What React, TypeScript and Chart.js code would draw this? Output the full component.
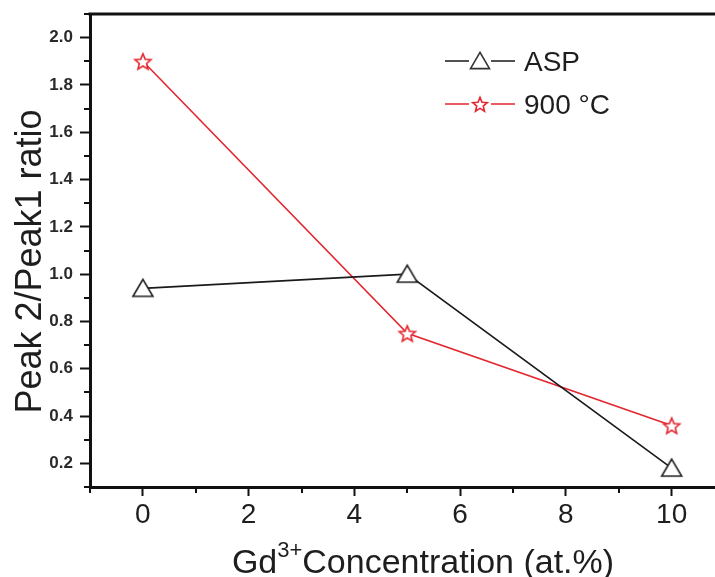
import React, { useEffect, useRef } from 'react';
import { Chart, registerables } from 'chart.js';

Chart.register(...registerables);

// ---- data ----
const concentrations = [0, 5, 10];
const aspValues = [0.94, 1.0, 0.18];
const c900Values = [1.9, 0.75, 0.36];
const seriesLabels = ['ASP', '900 °C'];
const seriesColors = ['#1a1a1a', '#e3262f'];

// ---- axes ----
const xMin = -1;
const xMax = 10.82;
const yMin = 0.1;
const yMax = 2.1;
const xMajorTicks = [0, 2, 4, 6, 8, 10];
const xMinorTicks = [-1, 1, 3, 5, 7, 9];
const yMajorTicks = [0.2, 0.4, 0.6, 0.8, 1.0, 1.2, 1.4, 1.6, 1.8, 2.0];
const yMinorTicks = [0.1, 0.3, 0.5, 0.7, 0.9, 1.1, 1.3, 1.5, 1.7, 1.9, 2.1];
const yTitle = 'Peak 2/Peak1 ratio';
const xTitleParts = ['Gd', '3+', 'Concentration (at.%)'];

const FONT = '"Liberation Sans", Arial, sans-serif';
const AXIS_COLOR = '#111';
const TEXT_COLOR = '#1e1e1e';

function makeMarker(kind: 'triangle' | 'star', color: string, scale = 1): HTMLCanvasElement {
  const size = 28;
  const c = document.createElement('canvas');
  c.width = size;
  c.height = size;
  const g = c.getContext('2d')!;
  const m = size / 2;
  g.lineWidth = 1.6;
  g.strokeStyle = color;
  g.fillStyle = '#ffffff';
  g.lineJoin = 'miter';
  g.beginPath();
  if (kind === 'triangle') {
    g.moveTo(m, m - 9 * scale);
    g.lineTo(m - 10 * scale, m + 8 * scale);
    g.lineTo(m + 10 * scale, m + 8 * scale);
    g.closePath();
  } else {
    const outer = 8.5 * scale;
    const inner = 3.8 * scale;
    for (let i = 0; i < 10; i++) {
      const r = i % 2 === 0 ? outer : inner;
      const a = -Math.PI / 2 + (i * Math.PI) / 5;
      const px = m + r * Math.cos(a);
      const py = m + 1 + r * Math.sin(a);
      if (i === 0) g.moveTo(px, py);
      else g.lineTo(px, py);
    }
    g.closePath();
  }
  g.fill();
  g.stroke();
  return c;
}

export default function App() {
  const canvasRef = useRef<HTMLCanvasElement | null>(null);

  useEffect(() => {
    const canvas = canvasRef.current;
    if (!canvas) return;
    const markers = [makeMarker('triangle', '#222'), makeMarker('star', seriesColors[1])];
    const legendMarkers = [makeMarker('triangle', '#333', 0.95), makeMarker('star', seriesColors[1], 0.9)];

    const decor = {
      id: 'decor',
      afterDraw(chart: any) {
        const { ctx, chartArea } = chart;
        const xs = chart.scales.x;
        const ys = chart.scales.y;
        ctx.save();
        // top frame line
        ctx.strokeStyle = AXIS_COLOR;
        ctx.lineWidth = 3;
        ctx.beginPath();
        ctx.moveTo(chartArea.left - 1.5, chartArea.top);
        ctx.lineTo(chart.width, chartArea.top);
        ctx.stroke();
        // minor ticks
        ctx.lineWidth = 2;
        xMinorTicks.forEach((v) => {
          const px = Math.round(xs.getPixelForValue(v));
          ctx.beginPath();
          ctx.moveTo(px, chartArea.bottom);
          ctx.lineTo(px, chartArea.bottom + 6);
          ctx.stroke();
        });
        yMinorTicks.forEach((v) => {
          const py = Math.round(ys.getPixelForValue(v));
          ctx.beginPath();
          ctx.moveTo(chartArea.left, py);
          ctx.lineTo(chartArea.left - 6, py);
          ctx.stroke();
        });
        // y title
        ctx.fillStyle = TEXT_COLOR;
        ctx.save();
        ctx.translate(41, (chartArea.top + chartArea.bottom) / 2 + 11);
        ctx.rotate(-Math.PI / 2);
        ctx.font = `36px ${FONT}`;
        ctx.textAlign = 'center';
        ctx.textBaseline = 'alphabetic';
        ctx.fillText(yTitle, 0, 0);
        ctx.restore();
        // x title with superscript
        const mainFont = `34px ${FONT}`;
        const supFont = `22px ${FONT}`;
        ctx.textAlign = 'left';
        ctx.textBaseline = 'alphabetic';
        ctx.font = mainFont;
        const w0 = ctx.measureText(xTitleParts[0]).width;
        const w2 = ctx.measureText(xTitleParts[2]).width;
        ctx.font = supFont;
        const w1 = ctx.measureText(xTitleParts[1]).width;
        const total = w0 + w1 + w2;
        const cx = 423;
        const base = 573;
        let tx = cx - total / 2;
        ctx.font = mainFont;
        ctx.fillText(xTitleParts[0], tx, base);
        tx += w0;
        ctx.font = supFont;
        ctx.fillText(xTitleParts[1], tx, base - 16);
        tx += w1;
        ctx.font = mainFont;
        ctx.fillText(xTitleParts[2], tx, base);
        // legend
        const lx0 = chartArea.left + 355;
        const lx1 = lx0 + 70;
        const mid = (lx0 + lx1) / 2;
        const gap = 11;
        const rows = [61, 104];
        chart.data.datasets.forEach((ds: any, i: number) => {
          const ly = rows[i];
          ctx.strokeStyle = ds.borderColor;
          ctx.lineWidth = 1.6;
          ctx.beginPath();
          ctx.moveTo(lx0, ly);
          ctx.lineTo(mid - gap, ly);
          ctx.moveTo(mid + gap, ly);
          ctx.lineTo(lx1, ly);
          ctx.stroke();
          const mk = legendMarkers[i];
          ctx.drawImage(mk, mid - mk.width / 2, ly - mk.height / 2);
          ctx.fillStyle = TEXT_COLOR;
          ctx.font = `28px ${FONT}`;
          ctx.fillText(ds.label, lx1 + 9, ly + 10);
        });
        ctx.restore();
      },
    };

    const chart = new Chart(canvas, {
      type: 'line',
      data: {
        datasets: [
          {
            label: seriesLabels[0],
            data: concentrations.map((c, i) => ({ x: c, y: aspValues[i] })),
            borderColor: seriesColors[0],
            borderWidth: 1.6,
            pointStyle: markers[0] as any,
            pointRadius: 10,
            tension: 0,
          },
          {
            label: seriesLabels[1],
            data: concentrations.map((c, i) => ({ x: c, y: c900Values[i] })),
            borderColor: seriesColors[1],
            borderWidth: 1.6,
            pointStyle: markers[1] as any,
            pointRadius: 10,
            tension: 0,
          },
        ],
      },
      options: {
        responsive: false,
        animation: false,
        layout: { autoPadding: false, padding: { top: 14, right: 0, left: 0, bottom: 0 } },
        plugins: {
          legend: { display: false },
          tooltip: { enabled: false },
        },
        scales: {
          x: {
            type: 'linear',
            min: xMin,
            max: xMax,
            afterBuildTicks: (s: any) => {
              s.ticks = xMajorTicks.map((v) => ({ value: v }));
            },
            afterFit: (s: any) => {
              s.height = 90;
              s.paddingLeft = 0;
              s.paddingRight = 0;
            },
            grid: {
              drawOnChartArea: false,
              drawTicks: true,
              tickLength: 9,
              tickWidth: 2,
              tickColor: AXIS_COLOR,
            },
            border: { display: true, width: 3, color: AXIS_COLOR },
            ticks: {
              autoSkip: false,
              maxRotation: 0,
              padding: 2,
              color: TEXT_COLOR,
              font: { family: FONT, size: 28 },
              callback: (v: any) => String(v),
            },
          },
          y: {
            type: 'linear',
            min: yMin,
            max: yMax,
            afterBuildTicks: (s: any) => {
              s.ticks = yMajorTicks.map((v) => ({ value: v }));
            },
            afterFit: (s: any) => {
              s.width = 90;
              s.paddingTop = 0;
              s.paddingBottom = 0;
            },
            grid: {
              drawOnChartArea: false,
              drawTicks: true,
              tickLength: 10,
              tickWidth: 2,
              tickColor: AXIS_COLOR,
            },
            border: { display: true, width: 3, color: AXIS_COLOR },
            ticks: {
              autoSkip: false,
              padding: 7,
              color: '#2a2a2a',
              font: { family: FONT, size: 17, weight: 'bold' },
              callback: (v: any) => Number(v).toFixed(1),
            },
          },
        },
      },
      plugins: [decor],
    });

    return () => chart.destroy();
  }, []);

  return (
    <div style={{ position: 'absolute', left: 0, top: 0, width: 715, height: 577, background: '#fff' }}>
      <canvas ref={canvasRef} width={715} height={577} style={{ display: 'block' }} />
    </div>
  );
}
